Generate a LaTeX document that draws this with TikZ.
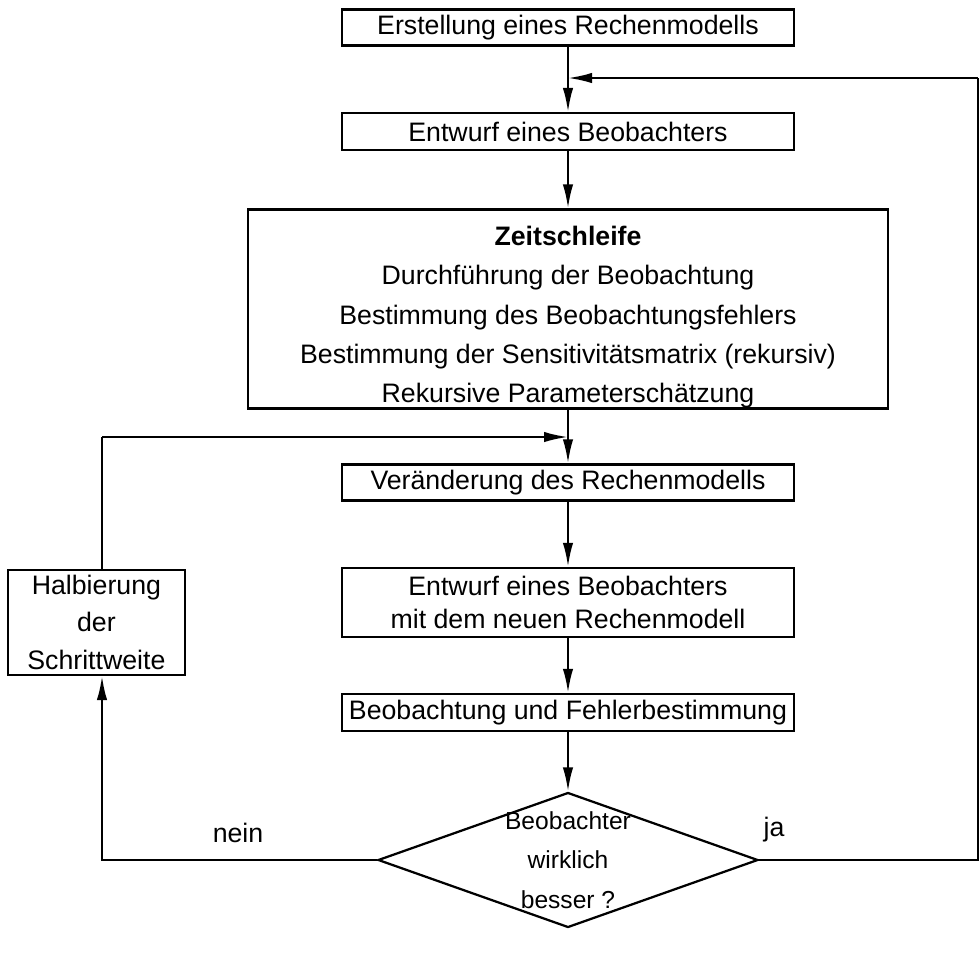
\documentclass[tikz,border=0pt]{standalone}
\usepackage{fontspec}
\setmainfont{Liberation Sans}
\usetikzlibrary{arrows.meta,positioning,shapes.geometric}
\begin{document}
\begin{tikzpicture}[
  every node/.style={font=\fontsize{19}{28}\selectfont},
  blk/.style={draw,line width=1.6pt,minimum width=11.3cm,minimum height=0.9cm,align=center,inner sep=0pt},
  flow/.style={-{Latex[length=6mm,width=2.6mm]},line width=1.6pt},
  ln/.style={line width=1.6pt}]
 \useasboundingbox (0,0) rectangle (24.5,-23.95);
 \node[blk] (b1) at (14.2,-0.69) {Erstellung eines Rechenmodells};
 \node[blk,minimum height=0.925cm] (b2) at (14.2,-3.29) {Entwurf eines Beobachters};
 \node[blk,minimum width=16cm,minimum height=4.95cm] (b3) at (14.2,-7.725)
   {\rule{0pt}{0.9cm}\textbf{Zeitschleife}\\Durchführung der Beobachtung\\Bestimmung des Beobachtungsfehlers\\
    Bestimmung der Sensitivitätsmatrix (rekursiv)\\Rekursive Parameterschätzung};
 \node[blk] (b4) at (14.2,-12.06) {Veränderung des Rechenmodells};
 \node[blk,minimum height=1.725cm,font=\fontsize{19}{24}\selectfont] (b5) at (14.2,-15.06)
   {Entwurf eines Beobachters\\mit dem neuen Rechenmodell};
 \node[blk,minimum height=0.925cm] (b6) at (14.2,-17.81) {Beobachtung und Fehlerbestimmung};
 \node[draw,ln,diamond,minimum width=9.5cm,minimum height=3.375cm,inner sep=0pt] (dia) at (14.2,-21.5) {};
 \node[align=center,font=\fontsize{17.5}{28}\selectfont] (q) at (dia) {Beobachter\\wirklich\\besser ?};
 \node[blk,minimum width=4.425cm,minimum height=2.625cm,font=\fontsize{19}{27}\selectfont] (half) at (2.41,-15.56)
   {Halbierung\\der\\Schrittweite};
 \node (no) at (5.95,-20.83) {nein};
 \node (yes) at (19.35,-20.75) {ja};
 \coordinate (j1) at (14.2,-1.95);
 \coordinate (j2) at (14.2,-10.925);
 \coordinate (nl) at (2.55,-21.5);
 \coordinate (jr) at (24.45,-21.5);
 % main column
 \draw[ln] (b1) -- (j1);
 \draw[flow] (j1) -- (b2);
 \draw[flow] (b2) -- (b3);
 \draw[ln] (b3) -- (j2);
 \draw[flow] (j2) -- (b4);
 \draw[flow] (b4) -- (b5);
 \draw[flow] (b5) -- (b6);
 \draw[flow] (b6) -- (dia);
 % ja
 \draw[ln] (dia.east) -- (jr) -- (jr |- j1);
 \draw[flow] (jr |- j1) -- (j1);
 % nein
 \draw[flow] (dia.west) -- (nl) -- (half.south -| nl);
 \draw[ln] (half.north -| nl) -- (nl |- j2);
 \draw[flow] (nl |- j2) -- (j2);
\end{tikzpicture}
\end{document}
